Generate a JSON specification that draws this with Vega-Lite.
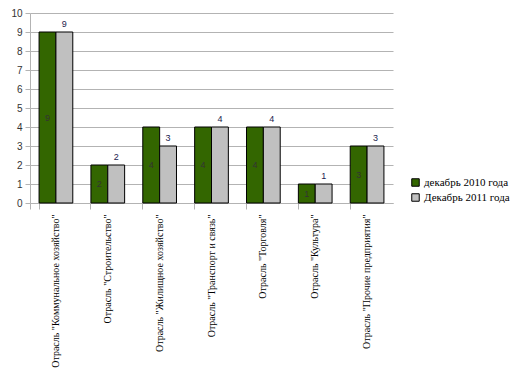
{
  "$schema": "https://vega.github.io/schema/vega-lite/v6.json",
  "width": 363,
  "height": 190,
  "autosize": {"type": "none"},
  "padding": {"left": 30, "top": 13, "right": 132, "bottom": 184},
  "background": "white",
  "config": {"view": {"stroke": null}, "font": "Liberation Sans"},
  "data": {
    "values": [
      {"otr": "Отрасль \"Коммунальное хозяйство\"", "series": "декабрь 2010 года", "value": 9},
      {"otr": "Отрасль \"Коммунальное хозяйство\"", "series": "Декабрь 2011 года", "value": 9},
      {"otr": "Отрасль \"Строительство\"", "series": "декабрь 2010 года", "value": 2},
      {"otr": "Отрасль \"Строительство\"", "series": "Декабрь 2011 года", "value": 2},
      {"otr": "Отрасль \"Жилищное хозяйство\"", "series": "декабрь 2010 года", "value": 4},
      {"otr": "Отрасль \"Жилищное хозяйство\"", "series": "Декабрь 2011 года", "value": 3},
      {"otr": "Отрасль \"Транспорт и связь\"", "series": "декабрь 2010 года", "value": 4},
      {"otr": "Отрасль \"Транспорт и связь\"", "series": "Декабрь 2011 года", "value": 4},
      {"otr": "Отрасль \"Торговля\"", "series": "декабрь 2010 года", "value": 4},
      {"otr": "Отрасль \"Торговля\"", "series": "Декабрь 2011 года", "value": 4},
      {"otr": "Отрасль \"Культура\"", "series": "декабрь 2010 года", "value": 1},
      {"otr": "Отрасль \"Культура\"", "series": "Декабрь 2011 года", "value": 1},
      {"otr": "Отрасль \"Прочие предприятия\"", "series": "декабрь 2010 года", "value": 3},
      {"otr": "Отрасль \"Прочие предприятия\"", "series": "Декабрь 2011 года", "value": 3}
    ]
  },
  "encoding": {
    "x": {
      "field": "otr",
      "type": "nominal",
      "sort": null,
      "title": null,
      "scale": {"paddingInner": 0.35, "paddingOuter": 0.175},
      "axis": {
        "labelAngle": -90,
        "labelFont": "Liberation Serif",
        "labelFontSize": 10,
        "labelColor": "#000000",
        "labelPadding": 5,
        "labelLimit": 250,
        "bandPosition": 0,
        "tickExtra": true,
        "tickSize": 6,
        "tickColor": "#b3b3b3",
        "domainColor": "#b3b3b3",
        "grid": false
      }
    },
    "xOffset": {
      "field": "series",
      "type": "nominal",
      "sort": ["декабрь 2010 года", "Декабрь 2011 года"]
    }
  },
  "resolve": {"scale": {"y": "independent"}, "axis": {"y": "independent"}},
  "layer": [
    {
      "mark": {"type": "bar", "stroke": "#000000", "strokeWidth": 1},
      "encoding": {
        "y": {
          "field": "value",
          "type": "quantitative",
          "title": null,
          "scale": {"domain": [0, 10], "nice": false},
          "axis": {
            "values": [0, 1, 2, 3, 4, 5, 6, 7, 8, 9, 10],
            "grid": true,
            "gridColor": "#b3b3b3",
            "domainColor": "#b3b3b3",
            "tickColor": "#b3b3b3",
            "tickSize": 5,
            "labelFont": "Liberation Sans",
            "labelFontSize": 10,
            "labelColor": "#333333",
            "labelPadding": 3
          }
        },
        "color": {
          "field": "series",
          "type": "nominal",
          "scale": {
            "domain": ["декабрь 2010 года", "Декабрь 2011 года"],
            "range": ["#336600", "#c0c0c0"]
          },
          "legend": {
            "title": null,
            "orient": "none",
            "legendX": 380,
            "legendY": 164,
            "symbolType": "square",
            "symbolSize": 56,
            "symbolStrokeColor": "#000000",
            "symbolStrokeWidth": 1,
            "labelFont": "Liberation Serif",
            "labelFontSize": 11,
            "labelColor": "#000000",
            "labelOffset": 3,
            "rowPadding": 2,
            "padding": 0
          }
        }
      }
    },
    {
      "transform": [{"filter": "datum.series == 'декабрь 2010 года'"}],
      "mark": {"type": "text", "font": "Liberation Sans", "fontSize": 9, "color": "#333333", "baseline": "middle"},
      "encoding": {
        "y": {"field": "value", "type": "quantitative", "scale": {"domain": [0, 20], "nice": false}, "axis": null},
        "text": {"field": "value", "type": "quantitative"}
      }
    },
    {
      "transform": [{"filter": "datum.series == 'Декабрь 2011 года'"}],
      "mark": {"type": "text", "font": "Liberation Sans", "fontSize": 9, "color": "#1a1a4d", "baseline": "bottom", "dy": -3},
      "encoding": {
        "y": {"field": "value", "type": "quantitative", "scale": {"domain": [0, 10], "nice": false}, "axis": null},
        "text": {"field": "value", "type": "quantitative"}
      }
    }
  ]
}
